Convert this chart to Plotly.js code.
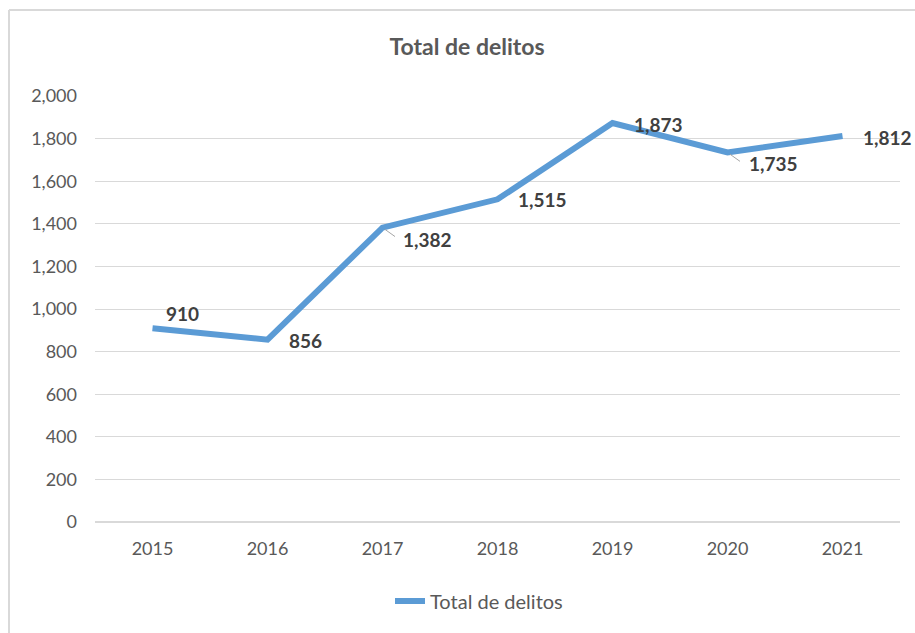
<!DOCTYPE html>
<html>
<head>
<meta charset="utf-8">
<script src="https://cdn.plot.ly/plotly-3.0.1.min.js"></script>
<style>
  html, body { margin: 0; padding: 0; background: #ffffff; }
  #chart { width: 915px; height: 633px; }
</style>
</head>
<body>
<div id="chart"></div>
<script>
const years = [2015, 2016, 2017, 2018, 2019, 2020, 2021];
const delitos = [910, 856, 1382, 1515, 1873, 1735, 1812];
const seriesName = 'Total de delitos';
const chartTitle = 'Total de delitos';

// label offsets (pixels) relative to each point – styling only
const labelDx = [30, 38, 45, 45, 46, 46, 45];
const labelDy = [15, -1, -12, 0, -1, -11, -1];
// which labels have a small leader line (styling only)
const hasLeader = [false, false, true, false, false, true, false];

const FONT = 'Lato, "Open Sans", "Noto Sans", sans-serif';

const annotations = [];
years.forEach((yr, i) => {
  if (hasLeader[i]) {
    annotations.push({
      x: yr, y: delitos[i], xref: 'x', yref: 'y',
      text: '', showarrow: true, arrowhead: 0, arrowwidth: 1,
      arrowcolor: '#a6a6a6', ax: 14, ay: 10, standoff: 3
    });
  }
  annotations.push({
    x: yr, y: delitos[i], xref: 'x', yref: 'y',
    text: delitos[i].toLocaleString('en-US'),
    showarrow: false,
    xshift: labelDx[i], yshift: labelDy[i],
    font: { family: FONT, size: 19, color: '#404040', weight: 'bold' }
  });
});

const trace = {
  x: years, y: delitos,
  type: 'scatter', mode: 'lines',
  name: seriesName,
  line: { color: '#5B9BD5', width: 6 },
  hoverinfo: 'x+y'
};

// outer chart border (left and top edges visible)
const bx = (9 - 95) / 805, by = (522 - 10) / 426;
const shapes = [
  { type: 'line', xref: 'paper', yref: 'paper', x0: bx, x1: bx, y0: -0.4, y1: by,
    line: { color: '#d9d9d9', width: 2 } },
  { type: 'line', xref: 'paper', yref: 'paper', x0: bx, x1: 1.2, y0: by, y1: by,
    line: { color: '#d9d9d9', width: 2 } }
];

const layout = {
  width: 915, height: 633,
  margin: { l: 95, r: 15, t: 96, b: 111 },
  paper_bgcolor: '#ffffff', plot_bgcolor: '#ffffff',
  font: { family: FONT, color: '#595959', size: 18 },
  title: {
    text: chartTitle,
    x: 467 / 915, xanchor: 'center', xref: 'container',
    y: 1 - 47 / 633, yanchor: 'middle', yref: 'container',
    font: { family: FONT, size: 23, color: '#595959', weight: 'bold' }
  },
  xaxis: {
    type: 'linear', range: [2014.5, 2021.5], dtick: 1, tick0: 2015,
    tickformat: 'd',
    showgrid: false, zeroline: false, showline: false,
    ticks: '', ticklabelstandoff: 14,
    tickfont: { family: FONT, size: 18, color: '#595959' }
  },
  yaxis: {
    range: [0, 2000], dtick: 200, tick0: 0,
    tickformat: ',d',
    showgrid: true, gridcolor: '#d9d9d9', gridwidth: 1,
    zeroline: true, zerolinecolor: '#d9d9d9', zerolinewidth: 1.5,
    showline: false, ticks: '', ticklabelstandoff: 17,
    tickfont: { family: FONT, size: 18, color: '#595959' }
  },
  showlegend: true,
  legend: {
    orientation: 'h',
    x: (479 - 95) / 805, xanchor: 'center',
    y: (522 - 601) / 426, yanchor: 'middle',
    font: { family: FONT, size: 20, color: '#595959' },
    bgcolor: 'rgba(0,0,0,0)'
  },
  annotations: annotations,
  shapes: shapes
};

Plotly.newPlot('chart', [trace], layout, { displayModeBar: false, staticPlot: true });
</script>
</body>
</html>
